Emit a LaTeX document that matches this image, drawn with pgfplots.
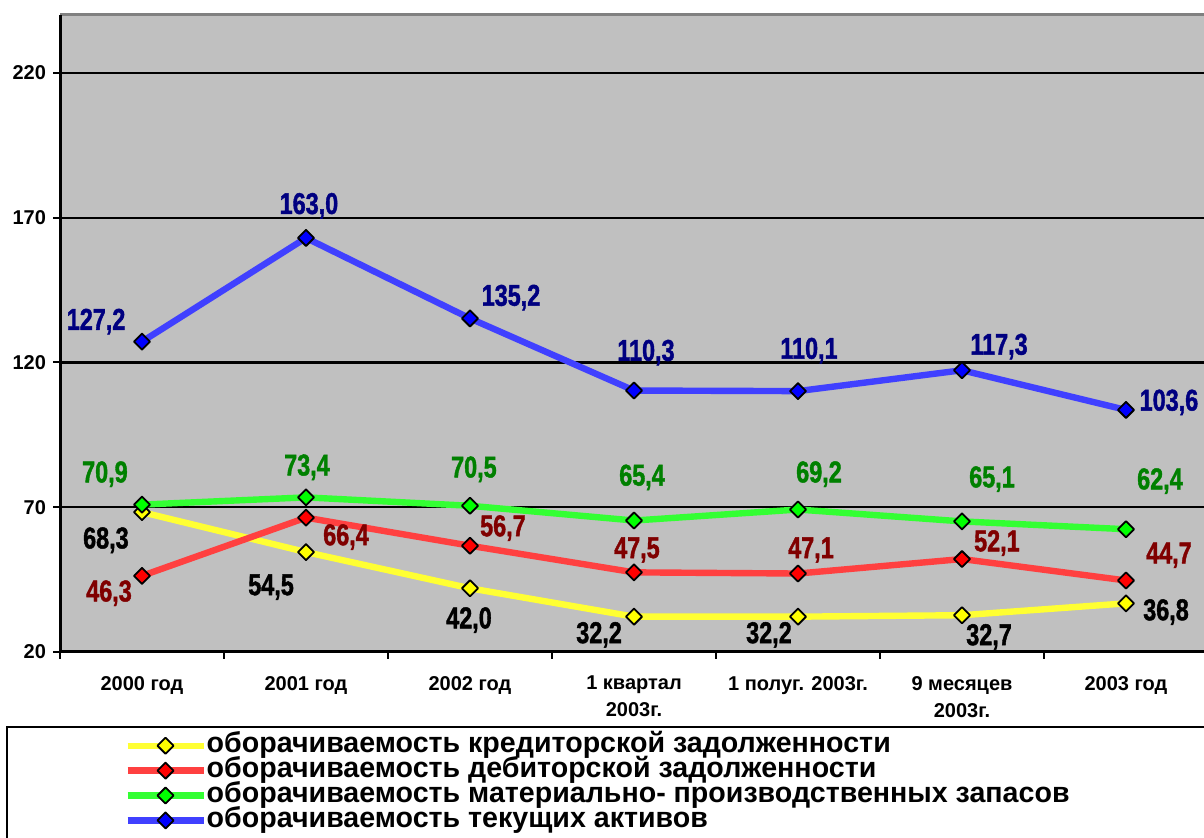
\documentclass[border=0pt]{standalone}
\usepackage{pgfplots}
\pgfplotsset{compat=1.18}
\usepackage{graphicx}
\usepackage{fontspec}
\setmainfont{Liberation Sans}
\newfontfamily\labfont[FakeBold=1.6]{Liberation Sans Bold}
\definecolor{bg}{HTML}{C0C0C0}
\definecolor{lyel}{HTML}{FFFF33}
\definecolor{lred}{HTML}{FF4040}
\definecolor{lgrn}{HTML}{33FF33}
\definecolor{lblu}{HTML}{4040FF}
\definecolor{myel}{HTML}{FFFF00}
\definecolor{mred}{HTML}{FF0000}
\definecolor{mgrn}{HTML}{00FF00}
\definecolor{mblu}{HTML}{0000FF}
\definecolor{tnav}{HTML}{000080}
\definecolor{tgrn}{HTML}{008000}
\definecolor{tred}{HTML}{800000}
\newcommand{\lab}[1]{\scalebox{0.78}[1]{\labfont\fontsize{15}{15}\selectfont #1}}
\begin{document}
\begin{tikzpicture}
\begin{axis}[
  at={(30pt,93pt)}, anchor=south west,
  scale only axis, width=574pt, height=318.5pt,
  xmin=-0.5, xmax=6.5, ymin=20, ymax=240,
  axis background/.style={fill=bg},
  axis line style={draw=none},
  clip=false,
  tick align=outside,
  xtick pos=bottom, ytick pos=left,
  xtick={0,1,2,3,4,5,6},
  xticklabels={2000 год,2001 год,2002 год,{1 квартал\\2003г.},1 полуг. 2003г.,{9 месяцев\\2003г.},2003 год},
  major x tick style={draw=none},
  minor xtick={-0.5,0.5,1.5,2.5,3.5,4.5,5.5,6.5},
  minor x tick style={black, line width=1pt},
  minor tick length=3.5pt,
  ytick={20,70,120,170,220},
  major y tick style={black, line width=1pt},
  major tick length=3.5pt,
  ymajorgrids,
  grid style={black, line width=1.1pt},
  /pgf/number format/assume math mode=true,
  tick label style={font=\bfseries\fontsize{10}{13.5}\selectfont},
  xticklabel style={align=center},
  xticklabel shift=5pt,
  yticklabel shift=0pt,
  legend cell align=left,
  legend style={draw=none, fill=none, at={(0.0557,-0.127)}, anchor=north west,
    inner sep=0pt, row sep=0pt, column sep=0pt,
    font=\bfseries\fontsize{14.3}{14}\selectfont,
    nodes={inner sep=0pt, text height=9.7pt, text depth=2.75pt}},
  legend image code/.code={\draw[mark repeat=2,mark phase=2,#1] plot coordinates {(0pt,0pt) (19pt,0pt) (38pt,0pt)};},
  every axis plot/.append style={line width=3.2pt, line join=round, mark=square*, mark size=2.85pt},
]
\addplot[color=lyel, mark options={rotate=45, fill=myel, draw=black, line width=0.9pt}] coordinates {(0,68.3) (1,54.5) (2,42.0) (3,32.2) (4,32.2) (5,32.7) (6,36.8)};
\addlegendentry{оборачиваемость кредиторской задолженности}
\addplot[color=lred, mark options={rotate=45, fill=mred, draw=black, line width=0.9pt}] coordinates {(0,46.3) (1,66.4) (2,56.7) (3,47.5) (4,47.1) (5,52.1) (6,44.7)};
\addlegendentry{оборачиваемость дебиторской задолженности}
\addplot[color=lgrn, mark options={rotate=45, fill=mgrn, draw=black, line width=0.9pt}] coordinates {(0,70.9) (1,73.4) (2,70.5) (3,65.4) (4,69.2) (5,65.1) (6,62.4)};
\addlegendentry{оборачиваемость материально- производственных запасов}
\addplot[color=lblu, mark options={rotate=45, fill=mblu, draw=black, line width=0.9pt}] coordinates {(0,127.2) (1,163.0) (2,135.2) (3,110.3) (4,110.1) (5,117.3) (6,103.6)};
\addlegendentry{оборачиваемость текущих активов}
% axis frame
\draw[gray, line width=1.5pt] (rel axis cs:0,1) -- (rel axis cs:1,1);
\draw[black, line width=1.5pt] (rel axis cs:0,1) -- (rel axis cs:0,0) -- (rel axis cs:1,0);
% labels blue
\node[text=tnav] at (axis cs:-0.280,134.1) {\lab{127,2}};
\node[text=tnav] at (axis cs:1.018,174.1) {\lab{163,0}};
\node[text=tnav] at (axis cs:2.250,142.4) {\lab{135,2}};
\node[text=tnav] at (axis cs:3.073,123.4) {\lab{110,3}};
\node[text=tnav] at (axis cs:4.067,124.1) {\lab{110,1}};
\node[text=tnav] at (axis cs:5.226,125.5) {\lab{117,3}};
\node[text=tnav] at (axis cs:6.262,106.2) {\lab{103,6}};
% green
\node[text=tgrn] at (axis cs:-0.226,81.4) {\lab{70,9}};
\node[text=tgrn] at (axis cs:1.006,83.8) {\lab{73,4}};
\node[text=tgrn] at (axis cs:2.024,83.1) {\lab{70,5}};
\node[text=tgrn] at (axis cs:3.049,80.3) {\lab{65,4}};
\node[text=tgrn] at (axis cs:4.128,81.4) {\lab{69,2}};
\node[text=tgrn] at (axis cs:5.183,79.7) {\lab{65,1}};
\node[text=tgrn] at (axis cs:6.207,79.0) {\lab{62,4}};
% red
\node[text=tred] at (axis cs:-0.201,40.3) {\lab{46,3}};
\node[text=tred] at (axis cs:1.244,59.7) {\lab{66,4}};
\node[text=tred] at (axis cs:2.201,62.8) {\lab{56,7}};
\node[text=tred] at (axis cs:3.018,55.2) {\lab{47,5}};
\node[text=tred] at (axis cs:4.079,55.2) {\lab{47,1}};
\node[text=tred] at (axis cs:5.213,57.6) {\lab{52,1}};
\node[text=tred] at (axis cs:6.262,53.4) {\lab{44,7}};
% yellow (black)
\node[text=black] at (axis cs:-0.220,58.6) {\lab{68,3}};
\node[text=black] at (axis cs:0.787,42.4) {\lab{54,5}};
\node[text=black] at (axis cs:1.994,31.0) {\lab{42,0}};
\node[text=black] at (axis cs:2.787,25.9) {\lab{32,2}};
\node[text=black] at (axis cs:3.823,25.9) {\lab{32,2}};
\node[text=black] at (axis cs:5.165,25.2) {\lab{32,7}};
\node[text=black] at (axis cs:6.244,33.8) {\lab{36,8}};
\end{axis}
\draw[black, line width=1.2pt] (3.5pt,-10pt) rectangle (620pt,55.5pt);
\pgfresetboundingbox
\path[use as bounding box] (0,0) rectangle (602pt,419pt);
\end{tikzpicture}
\end{document}
